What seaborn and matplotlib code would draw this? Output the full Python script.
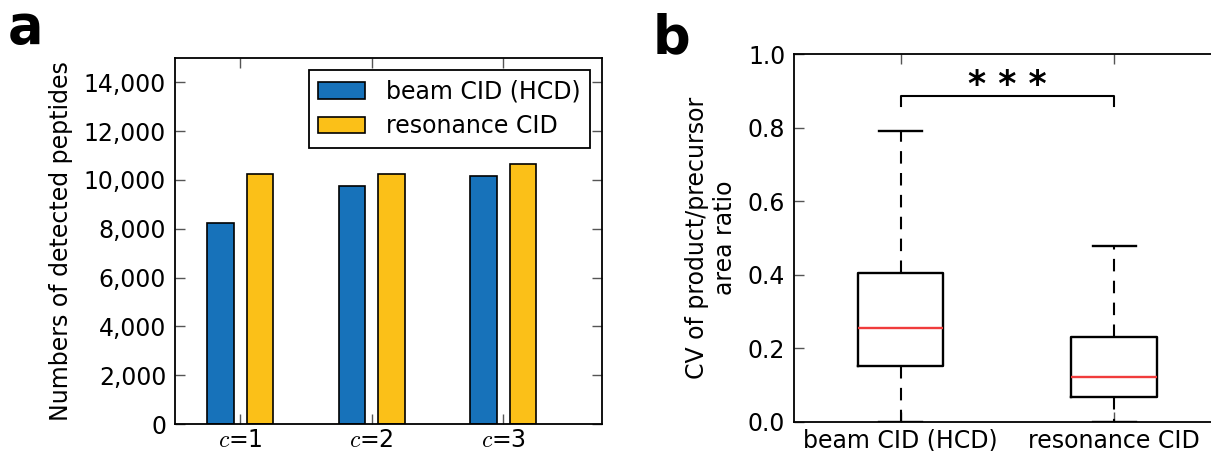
import matplotlib
matplotlib.use("Agg")
import matplotlib.pyplot as plt
from matplotlib.patches import Patch
from matplotlib.ticker import FuncFormatter
import pandas as pd
import seaborn as sns

# ---- data -------------------------------------------------------------
conditions = ["$c$=1", "$c$=2", "$c$=3"]
methods = ["beam CID (HCD)", "resonance CID"]
beam_counts = [8220, 9750, 10150]
resonance_counts = [10260, 10240, 10660]
method_colors = ["#1772ba", "#fbc018"]

# CV of product/precursor area ratio: min, Q1, median, Q3, max
cv_beam = [0.0, 0.152, 0.255, 0.406, 0.790]
cv_resonance = [0.0, 0.066, 0.123, 0.231, 0.479]

count_ticks = [0, 2000, 4000, 6000, 8000, 10000, 12000, 14000]
cv_ticks = [0.0, 0.2, 0.4, 0.6, 0.8, 1.0]
significance = "* * *"
bracket_top = 0.887
bracket_foot = 0.860

# ---- style ------------------------------------------------------------
plt.rcParams["font.family"] = ["DejaVu Sans"]
plt.rcParams["mathtext.fontset"] = "cm"
plt.rcParams["font.size"] = 17
FS = 17

W, H = 1211, 451
fig = plt.figure(figsize=(W / 100, H / 100), dpi=100)
ax_a = fig.add_axes([174.5 / W, 27 / H, 427.2 / W, 366 / H])
ax_b = fig.add_axes([793.7 / W, 29.3 / H, 427.3 / W, 367.4 / H])

# ---- panel a: detected peptides ---------------------------------------
df_counts = pd.DataFrame({
    "condition": conditions * 2,
    "method": [methods[0]] * len(conditions) + [methods[1]] * len(conditions),
    "count": beam_counts + resonance_counts,
})
sns.barplot(data=df_counts, x="condition", y="count", hue="method",
            order=conditions, hue_order=methods, palette=method_colors,
            saturation=1, width=0.6, gap=1 / 3, errorbar=None,
            edgecolor="black", linewidth=1.2, ax=ax_a, legend=False)
ax_a.set_xlim(-0.5, 2.75)
ax_a.set_ylim(0, 15000)
ax_a.set_yticks(count_ticks)
ax_a.yaxis.set_major_formatter(FuncFormatter(lambda v, p: f"{int(v):,}"))
ax_a.set_xlabel("")
ax_a.set_ylabel("Numbers of detected peptides", fontsize=FS, labelpad=8)

handles = [Patch(facecolor=c, edgecolor="black", linewidth=1.2) for c in method_colors]
leg = ax_a.legend(handles, methods, loc="upper right",
                  bbox_to_anchor=(0.9726, 0.967), borderaxespad=0,
                  frameon=True, fancybox=False, framealpha=1,
                  edgecolor="black", fontsize=FS, handlelength=2.0,
                  handleheight=0.7, handletextpad=0.87, labelspacing=0.45,
                  borderpad=0.4)
leg.get_frame().set_linewidth(1.3)

# ---- panel b: CV box plots --------------------------------------------
df_cv = pd.DataFrame({
    "method": [methods[0]] * len(cv_beam) + [methods[1]] * len(cv_resonance),
    "cv": cv_beam + cv_resonance,
})
sns.boxplot(data=df_cv, x="method", y="cv", order=methods, ax=ax_b,
            width=0.4, whis=(0, 100), fill=False, color="black",
            linewidth=1.7, showfliers=False,
            medianprops={"color": "#f03c3c", "linewidth": 1.7},
            whiskerprops={"linestyle": (0, (6, 4.5)), "linewidth": 1.5},
            capprops={"linewidth": 1.7})
ax_b.set_xlim(-0.5, 1.5)
ax_b.set_ylim(0, 1.0)
ax_b.set_yticks(cv_ticks)
ax_b.yaxis.set_major_formatter(FuncFormatter(lambda v, p: f"{v:.1f}"))
ax_b.set_xlabel("")
ax_b.set_ylabel("CV of product/precursor\narea ratio", fontsize=FS,
                labelpad=8, multialignment="center")

# significance bracket between the two boxes
ax_b.plot([0, 0, 1, 1], [bracket_foot, bracket_top, bracket_top, bracket_foot],
          color="black", linewidth=1.5, clip_on=False)
ax_b.text(0.5, bracket_top + 0.003, significance, ha="center", va="baseline",
          fontsize=25, fontweight="bold")

# ---- shared axes styling ----------------------------------------------
for ax in (ax_a, ax_b):
    ax.grid(False)
    for side in ("top", "right", "bottom", "left"):
        ax.spines[side].set_visible(True)
        ax.spines[side].set_linewidth(1.3)
        ax.spines[side].set_color("black")
    ax.tick_params(which="major", direction="in", top=True, right=True,
                   length=7, width=1, color="#555555", pad=6,
                   labelsize=FS, labelcolor="black")
ax_a.tick_params(axis="x", pad=3)
ax_b.tick_params(axis="x", pad=5)

fig.text(7.7 / W, 1 - 43 / H, "a", fontsize=38, fontweight="bold", va="baseline")
fig.text(652.6 / W, 1 - 53.3 / H, "b", fontsize=38, fontweight="bold", va="baseline")

fig.savefig("out.png", dpi=100)
